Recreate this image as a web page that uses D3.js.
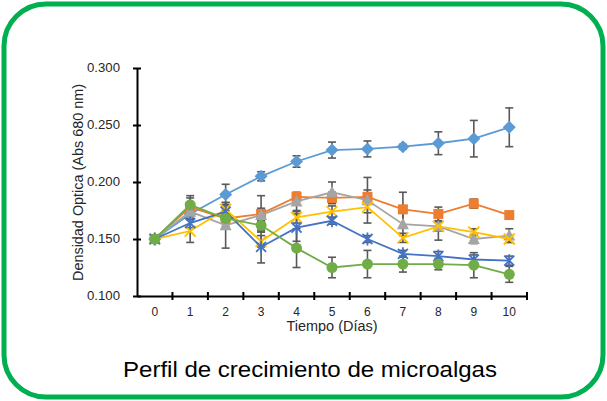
<!DOCTYPE html>
<html>
<head>
<meta charset="utf-8">
<script src="https://cdn.jsdelivr.net/npm/d3@7"></script>
<style>
  html, body { margin: 0; padding: 0; background: #fff; }
  svg { display: block; font-family: "Liberation Sans", Arial, sans-serif; }
</style>
</head>
<body>
<svg id="chart" width="607" height="401"></svg>
<script>
// Days of culture
const days = [0, 1, 2, 3, 4, 5, 6, 7, 8, 9, 10];
const yTicks = [0.100, 0.150, 0.200, 0.250, 0.300];

// Optical density (Abs 680 nm) per culture, with standard deviations
const diamondValues = [0.150, 0.172, 0.189, 0.205, 0.218, 0.228, 0.229, 0.231, 0.234, 0.238, 0.248];
const diamondErrors = [0.003, 0.004, 0.009, 0.004, 0.005, 0.007, 0.007, 0.002, 0.010, 0.016, 0.017];
const squareValues  = [0.150, 0.178, 0.168, 0.172, 0.187, 0.186, 0.187, 0.176, 0.172, 0.181, 0.171];
const squareErrors  = [0.003, 0.008, 0.004, 0.016, 0.003, 0.005, 0.006, 0.015, 0.006, 0.004, 0.003];
const triangleValues = [0.150, 0.174, 0.162, 0.171, 0.183, 0.191, 0.184, 0.163, 0.161, 0.150, 0.153];
const triangleErrors = [0.003, 0.006, 0.020, 0.006, 0.008, 0.009, 0.020, 0.010, 0.012, 0.004, 0.006];
const crossValues   = [0.150, 0.157, 0.176, 0.148, 0.169, 0.174, 0.178, 0.151, 0.161, 0.156, 0.150];
const crossErrors   = [0.003, 0.010, 0.006, 0.005, 0.005, 0.005, 0.005, 0.004, 0.004, 0.003, 0.003];
const starValues    = [0.150, 0.164, 0.174, 0.143, 0.160, 0.166, 0.150, 0.137, 0.135, 0.132, 0.131];
const starErrors    = [0.002, 0.004, 0.005, 0.014, 0.012, 0.003, 0.003, 0.003, 0.004, 0.004, 0.004];
const circleValues  = [0.150, 0.180, 0.168, 0.162, 0.142, 0.125, 0.128, 0.128, 0.128, 0.127, 0.119];
const circleErrors  = [0.003, 0.008, 0.007, 0.004, 0.017, 0.009, 0.012, 0.007, 0.005, 0.011, 0.007];

const series = [
  { marker: "diamond",  color: "#5B9BD5", values: diamondValues,  errors: diamondErrors },
  { marker: "square",   color: "#ED7D31", values: squareValues,   errors: squareErrors },
  { marker: "triangle", color: "#A5A5A5", values: triangleValues, errors: triangleErrors },
  { marker: "cross",    color: "#FFC000", values: crossValues,    errors: crossErrors },
  { marker: "star",     color: "#4472C4", values: starValues,     errors: starErrors },
  { marker: "circle",   color: "#70AD47", values: circleValues,   errors: circleErrors }
];

const svg = d3.select("#chart");

// Rounded green frame
svg.append("rect")
  .attr("x", 4).attr("y", 4)
  .attr("width", 599).attr("height", 393)
  .attr("rx", 42).attr("ry", 42)
  .attr("fill", "#fff")
  .attr("stroke", "#00B050")
  .attr("stroke-width", 5);

const plotLeft = 137, plotRight = 527, plotTop = 68, plotBottom = 296;

const x = d3.scaleBand().domain(days).range([plotLeft, plotRight]);
const y = d3.scaleLinear().domain([0.1, 0.3]).range([plotBottom, plotTop]);
const cx = d => x(d) + x.bandwidth() / 2;

// Y axis
const yAxis = svg.append("g")
  .attr("transform", `translate(${plotLeft},0)`)
  .call(d3.axisLeft(y).tickValues(yTicks).tickFormat(d3.format(".3f")).tickSizeOuter(0).tickSizeInner(4).tickPadding(13));
yAxis.select(".domain").attr("stroke", "#000").attr("stroke-width", 2);
yAxis.selectAll(".tick line").attr("x1", 4).attr("x2", -4).attr("stroke", "#000").attr("stroke-width", 2);
yAxis.selectAll(".tick text").attr("font-size", 12).attr("fill", "#262626")
  .attr("font-family", "'Liberation Sans', Arial, sans-serif")
  .attr("textLength", 33).attr("lengthAdjust", "spacingAndGlyphs");

// X axis with ticks between categories
const xAxis = svg.append("g")
  .attr("transform", `translate(0,${plotBottom})`)
  .call(d3.axisBottom(x).tickSize(0).tickPadding(11));
xAxis.select(".domain").attr("stroke", "#000").attr("stroke-width", 2);
xAxis.selectAll(".tick text").attr("font-size", 12).attr("fill", "#262626")
  .attr("font-family", "'Liberation Sans', Arial, sans-serif");
const edges = days.map(d => x(d) + x.bandwidth());
xAxis.selectAll(".edge").data(edges).enter().append("line")
  .attr("x1", d => d).attr("x2", d => d)
  .attr("y1", -4).attr("y2", 4)
  .attr("stroke", "#000").attr("stroke-width", 2);

// Axis titles
svg.append("text")
  .attr("transform", `translate(83,182.5) rotate(-90)`)
  .attr("text-anchor", "middle")
  .attr("font-size", 14).attr("fill", "#262626")
  .attr("textLength", 197).attr("lengthAdjust", "spacingAndGlyphs")
  .text("Densidad Optica (Abs 680 nm)");

svg.append("text")
  .attr("x", 332).attr("y", 331)
  .attr("text-anchor", "middle")
  .attr("font-size", 14).attr("fill", "#262626")
  .attr("textLength", 91).attr("lengthAdjust", "spacingAndGlyphs")
  .text("Tiempo (Días)");

// Chart title
svg.append("text")
  .attr("x", 310).attr("y", 377)
  .attr("text-anchor", "middle")
  .attr("font-size", 22).attr("fill", "#000")
  .attr("textLength", 374).attr("lengthAdjust", "spacingAndGlyphs")
  .text("Perfil de crecimiento de microalgas");

// Error bars
const errG = svg.append("g");
series.forEach(s => {
  days.forEach((d, i) => {
    const v = s.values[i], e = s.errors[i];
    const g = errG.append("g").attr("stroke", "#595959").attr("stroke-width", 1.6);
    g.append("line").attr("x1", cx(d)).attr("x2", cx(d)).attr("y1", y(v - e)).attr("y2", y(v + e));
    g.append("line").attr("x1", cx(d) - 4).attr("x2", cx(d) + 4).attr("y1", y(v - e)).attr("y2", y(v - e));
    g.append("line").attr("x1", cx(d) - 4).attr("x2", cx(d) + 4).attr("y1", y(v + e)).attr("y2", y(v + e));
  });
});

// Lines and markers
const line = d3.line().x((v, i) => cx(days[i])).y(v => y(v));
series.forEach(s => {
  const g = svg.append("g");
  g.append("path")
    .attr("d", line(s.values))
    .attr("fill", "none")
    .attr("stroke", s.color)
    .attr("stroke-width", 1.8);

  days.forEach((d, i) => {
    const px = cx(d), py = y(s.values[i]);
    const m = g.append("g").attr("transform", `translate(${px},${py})`);
    if (s.marker === "diamond") {
      m.append("path").attr("d", "M0,-6.5L6.5,0L0,6.5L-6.5,0Z").attr("fill", s.color);
    } else if (s.marker === "square") {
      m.append("rect").attr("x", -5).attr("y", -5).attr("width", 10).attr("height", 10).attr("fill", s.color);
    } else if (s.marker === "triangle") {
      m.append("path").attr("d", "M0,-6.5L6,5L-6,5Z").attr("fill", s.color);
    } else if (s.marker === "circle") {
      m.append("circle").attr("r", 5.5).attr("fill", s.color);
    } else if (s.marker === "cross") {
      m.append("path").attr("d", "M-5.5,-5.5L5.5,5.5M-5.5,5.5L5.5,-5.5")
        .attr("stroke", s.color).attr("stroke-width", 1.8).attr("fill", "none");
    } else if (s.marker === "star") {
      m.append("path").attr("d", "M-5,-5L5,5M-5,5L5,-5M0,-6.5L0,6.5")
        .attr("stroke", s.color).attr("stroke-width", 1.8).attr("fill", "none");
    }
  });
});
</script>
</body>
</html>
